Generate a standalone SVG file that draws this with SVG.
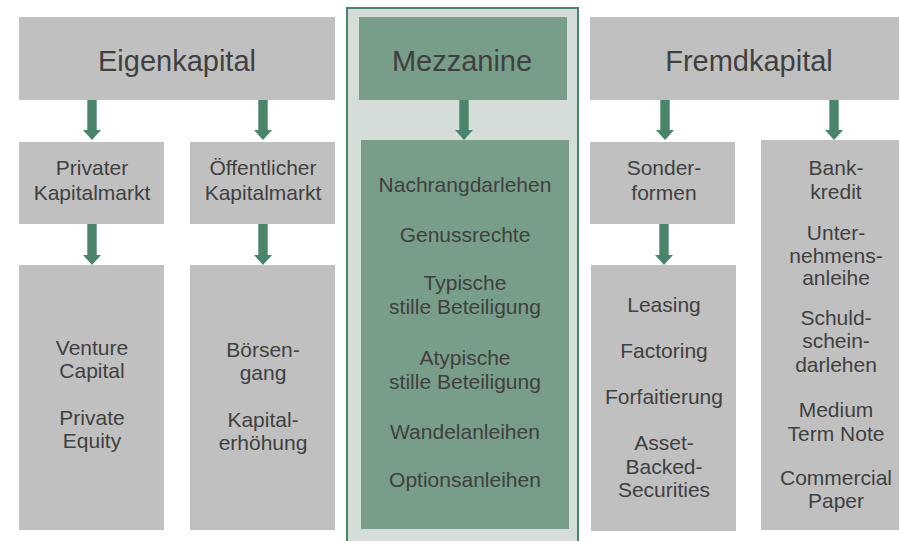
<svg xmlns="http://www.w3.org/2000/svg" width="899" height="541" viewBox="0 0 899 541">
<style>
.g{fill:#C0C0C0}
.m{fill:#789E89}
.t{font-family:"Liberation Sans",Arial,Helvetica,sans-serif;fill:#404040;text-anchor:middle}
.h{font-size:29px}
.b{font-size:21px}
.a{fill:#4A846A}
</style>
<defs>
<path id="arr" d="M-4.7,0 H4.7 V30 H9 L0,40 L-9,30 H-4.7 Z"/>
<path id="arr2" d="M-4.7,0 H4.7 V31 H9 L0,41 L-9,31 H-4.7 Z"/>
</defs>
<rect x="0" y="0" width="899" height="541" fill="#FFFFFF"/>
<g id="mezz-frame">
<rect x="347" y="8" width="231" height="545" fill="#D4DDD7" stroke="#4A846A" stroke-width="2"/>
</g>
<g id="eigenkapital">
<rect class="g" x="19" y="17" width="316" height="83"/>
<text class="t h" x="177" y="71">Eigenkapital</text>
</g>
<g id="mezzanine">
<rect class="m" x="359" y="17" width="208" height="83"/>
<text class="t h" x="462" y="71">Mezzanine</text>
</g>
<g id="fremdkapital">
<rect class="g" x="590" y="17" width="320" height="83"/>
<text class="t h" x="749" y="71">Fremdkapital</text>
</g>
<g id="privater">
<rect class="g" x="19" y="142" width="145" height="82"/>
<text class="t b" x="92" y="175">Privater</text>
<text class="t b" x="92" y="200">Kapitalmarkt</text>
</g>
<g id="oeffentlicher">
<rect class="g" x="190" y="142" width="145" height="82"/>
<text class="t b" x="263" y="175">Öffentlicher</text>
<text class="t b" x="263" y="200">Kapitalmarkt</text>
</g>
<g id="sonderformen">
<rect class="g" x="590" y="142" width="145" height="82"/>
<text class="t b" x="664" y="175">Sonder-</text>
<text class="t b" x="664" y="200">formen</text>
</g>
<g id="privat-items">
<rect class="g" x="19" y="265" width="145" height="265"/>
<text class="t b" x="92" y="355">Venture</text>
<text class="t b" x="92" y="378">Capital</text>
<text class="t b" x="92" y="425">Private</text>
<text class="t b" x="92" y="448">Equity</text>
</g>
<g id="oeffentlich-items">
<rect class="g" x="190" y="265" width="145" height="265"/>
<text class="t b" x="263" y="357">Börsen-</text>
<text class="t b" x="263" y="380">gang</text>
<text class="t b" x="263" y="427">Kapital-</text>
<text class="t b" x="263" y="450">erhöhung</text>
</g>
<g id="mezz-items">
<rect class="m" x="361" y="140" width="208" height="389"/>
<text class="t b" x="465" y="192">Nachrangdarlehen</text>
<text class="t b" x="465" y="242">Genussrechte</text>
<text class="t b" x="465" y="290">Typische</text>
<text class="t b" x="465" y="314">stille Beteiligung</text>
<text class="t b" x="465" y="365">Atypische</text>
<text class="t b" x="465" y="389">stille Beteiligung</text>
<text class="t b" x="465" y="439">Wandelanleihen</text>
<text class="t b" x="465" y="487">Optionsanleihen</text>
</g>
<g id="sonder-items">
<rect class="g" x="591" y="265" width="145" height="266"/>
<text class="t b" x="664" y="312">Leasing</text>
<text class="t b" x="664" y="358">Factoring</text>
<text class="t b" x="664" y="404">Forfaitierung</text>
<text class="t b" x="664" y="450">Asset-</text>
<text class="t b" x="664" y="474">Backed-</text>
<text class="t b" x="664" y="497">Securities</text>
</g>
<g id="bank-items">
<rect class="g" x="761" y="140" width="150" height="390"/>
<text class="t b" x="836" y="175">Bank-</text>
<text class="t b" x="836" y="199">kredit</text>
<text class="t b" x="836" y="240">Unter-</text>
<text class="t b" x="836" y="263">nehmens-</text>
<text class="t b" x="836" y="285">anleihe</text>
<text class="t b" x="836" y="325">Schuld-</text>
<text class="t b" x="836" y="348">schein-</text>
<text class="t b" x="836" y="372">darlehen</text>
<text class="t b" x="836" y="417">Medium</text>
<text class="t b" x="836" y="441">Term Note</text>
<text class="t b" x="836" y="485">Commercial</text>
<text class="t b" x="836" y="508">Paper</text>
</g>
<g id="connectors" class="a">
<use href="#arr" x="92" y="100"/>
<use href="#arr" x="263" y="100"/>
<use href="#arr" x="464" y="100"/>
<use href="#arr" x="665" y="100"/>
<use href="#arr" x="834" y="100"/>
<use href="#arr2" x="92" y="224"/>
<use href="#arr2" x="263" y="224"/>
<use href="#arr2" x="664" y="224"/>
</g>
</svg>
